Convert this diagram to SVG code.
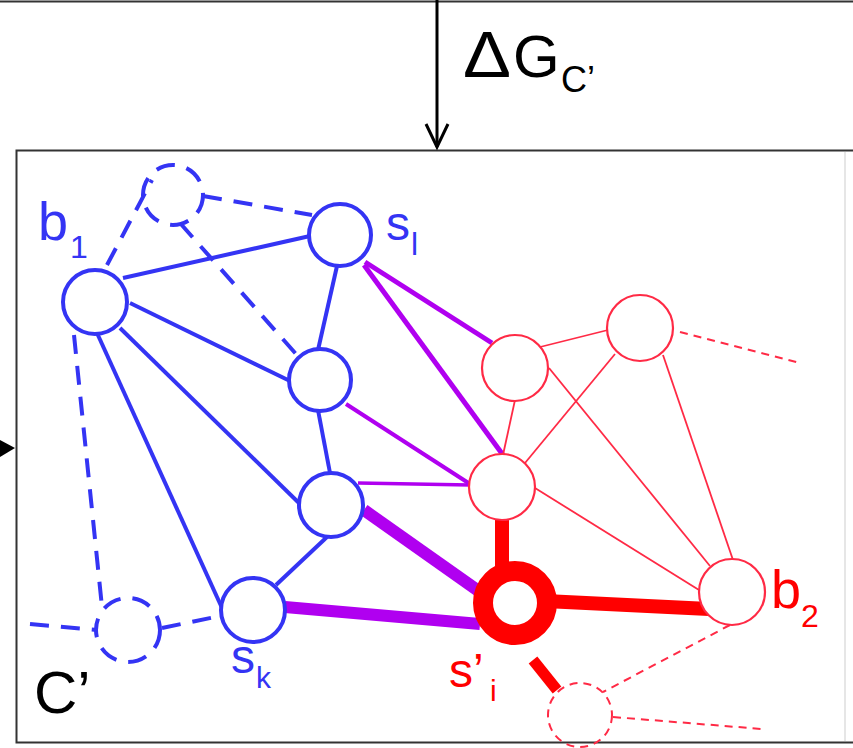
<svg xmlns="http://www.w3.org/2000/svg" width="853" height="748" viewBox="0 0 853 748">
<style>
.t{font-family:"Liberation Sans",Arial,sans-serif}
.blue{stroke:#3434f4;fill:none;stroke-width:4}
.bd{stroke:#3434f4;fill:none;stroke-width:4;stroke-dasharray:19,12}
.pur{stroke:#b000f0;fill:none}
.red{stroke:#ff0000;fill:none}
.rt{stroke:#ff2a45;fill:none;stroke-width:1.8}
.rd{stroke:#ff2a45;fill:none;stroke-width:2;stroke-dasharray:8,6}
.nb{fill:#fff;stroke:#3434f4;stroke-width:4}
.nr{fill:#fff;stroke:#ff2a45;stroke-width:2.2}
</style>
<rect x="0" y="0" width="853" height="748" fill="#fff"/>
<!-- frames -->
<line x1="0" y1="1.5" x2="853" y2="1.5" stroke="#333" stroke-width="2"/>
<path d="M853,150.5 H16.5 V742.5 H853" fill="none" stroke="#333" stroke-width="2"/>
<line x1="845" y1="152" x2="845" y2="741" stroke="#e6e6e6" stroke-width="2"/>
<!-- arrows -->
<g id="arrows">
<line x1="437" y1="0" x2="437" y2="147" stroke="#000" stroke-width="3"/>
<path d="M426,124 L437,147 L448,124" fill="none" stroke="#000" stroke-width="3"/>
<path d="M0,440 L15,448 L0,457 Z" fill="#000"/>
</g>
<text class="t" x="463" y="77" font-size="64" fill="#000" textLength="48" lengthAdjust="spacingAndGlyphs">Δ</text>
<text class="t" x="513" y="77" font-size="60" fill="#000">G</text>
<text class="t" x="561" y="92" font-size="36" fill="#000">C’</text>
<!-- connectors -->
<g id="connectors">
<!-- blue solid -->
<line class="blue" x1="123" y1="278" x2="310" y2="236"/>
<line class="blue" x1="130" y1="303" x2="290" y2="381"/>
<line class="blue" x1="120" y1="328" x2="301" y2="505"/>
<line class="blue" x1="97" y1="333" x2="222" y2="608"/>
<line class="blue" x1="337" y1="266" x2="318" y2="350"/>
<line class="blue" x1="318" y1="410" x2="330" y2="473"/>
<line class="blue" x1="328" y1="536" x2="276" y2="585"/>
<!-- blue dashed -->
<line class="bd" x1="107" y1="265" x2="152" y2="180"/>
<line class="bd" x1="203" y1="196" x2="312" y2="215"/>
<line class="bd" x1="180" y1="223" x2="296" y2="354"/>
<line class="bd" x1="74" y1="335" x2="102" y2="607"/>
<line class="bd" x1="30" y1="624" x2="97" y2="630"/>
<line class="bd" x1="162" y1="628" x2="220" y2="616"/>
<!-- purple -->
<line class="pur" stroke-width="5" x1="365" y1="262" x2="492" y2="343"/>
<line class="pur" stroke-width="5" x1="364" y1="265" x2="503" y2="455"/>
<line class="pur" stroke-width="4" x1="346" y1="404" x2="470" y2="484"/>
<line class="pur" stroke-width="3.5" x1="358" y1="483" x2="470" y2="485"/>
<line class="pur" stroke-width="12" x1="364" y1="510" x2="480" y2="592"/>
<line class="pur" stroke-width="12" x1="285" y1="607" x2="480" y2="624"/>
<!-- red thin -->
<line class="rt" x1="540" y1="347" x2="608" y2="330"/>
<line class="rt" x1="515" y1="400" x2="503" y2="455"/>
<line class="rt" x1="615" y1="354" x2="525" y2="463"/>
<line class="rt" x1="549" y1="368" x2="710" y2="566"/>
<line class="rt" x1="663" y1="355" x2="733" y2="560"/>
<line class="rt" x1="535" y1="488" x2="699" y2="590"/>
<!-- red dashed -->
<line class="rd" x1="680" y1="332" x2="800" y2="363"/>
<line class="rd" x1="730" y1="625" x2="603" y2="692"/>
<line class="rd" x1="613" y1="717" x2="762" y2="729"/>
<!-- red thick -->
<line class="red" stroke-width="14" x1="502" y1="516" x2="502" y2="575"/>
<line class="red" stroke-width="14" x1="545" y1="601" x2="709" y2="609"/>
<line class="red" stroke-width="11" x1="533" y1="660" x2="557" y2="690"/>
</g>
<!-- nodes -->
<g id="node-topdashed"><circle cx="173" cy="195" r="30" fill="none" stroke="#3434f4" stroke-width="4" stroke-dasharray="19,12"/></g>
<g id="node-cprime"><circle cx="128" cy="630" r="32" fill="none" stroke="#3434f4" stroke-width="4" stroke-dasharray="19,12"/></g>
<g id="node-b1"><circle class="nb" cx="95" cy="302" r="32"/></g>
<g id="node-sl"><circle class="nb" cx="340" cy="235" r="31"/></g>
<g id="node-mid"><circle class="nb" cx="320" cy="380" r="31"/></g>
<g id="node-n3"><circle class="nb" cx="331" cy="505" r="32"/></g>
<g id="node-sk"><circle class="nb" cx="253" cy="610" r="32"/></g>
<g id="node-r1"><circle class="nr" cx="515" cy="368" r="33"/></g>
<g id="node-r2"><circle class="nr" cx="640" cy="328" r="33"/></g>
<g id="node-r3"><circle class="nr" cx="502" cy="487" r="33"/></g>
<g id="node-si"><circle cx="515" cy="603" r="32" fill="#fff" stroke="#ff0000" stroke-width="20"/></g>
<g id="node-b2"><circle class="nr" cx="732" cy="592" r="33"/></g>
<g id="node-rdash"><circle cx="580" cy="715" r="32" fill="none" stroke="#ff2a45" stroke-width="2" stroke-dasharray="8,6"/></g>
<!-- labels -->
<text class="t" x="38" y="240" font-size="54" fill="#3434f4">b</text>
<text class="t" x="70" y="258" font-size="32" fill="#3434f4">1</text>
<text class="t" x="386" y="240" font-size="48" fill="#3434f4">s</text>
<text class="t" x="411" y="255" font-size="32" fill="#3434f4">l</text>
<text class="t" x="231" y="673" font-size="48" fill="#3434f4">s</text>
<text class="t" x="256" y="688" font-size="30" fill="#3434f4">k</text>
<text class="t" x="34" y="713" font-size="60" fill="#000">C’</text>
<text class="t" x="449" y="687" font-size="48" fill="#ff0000">s’</text>
<text class="t" x="490" y="701" font-size="30" fill="#ff0000">i</text>
<text class="t" x="771" y="608" font-size="54" fill="#ff0000">b</text>
<text class="t" x="801" y="627" font-size="32" fill="#ff0000">2</text>
</svg>
